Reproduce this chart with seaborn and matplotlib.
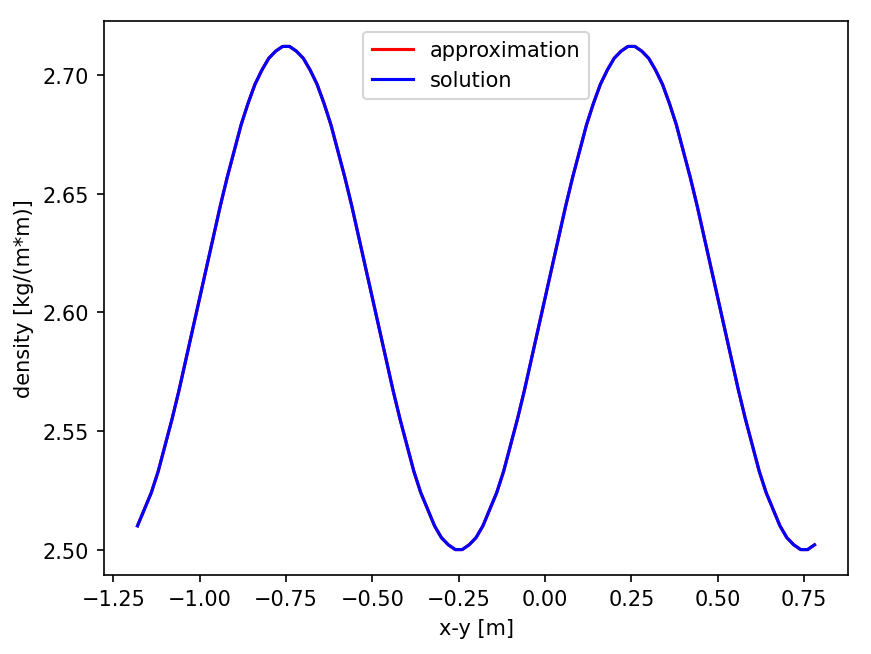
#!/usr/bin/env python3
"""
Density along the x-y diagonal: approximation vs. solution.
"""

import pandas as pd
import matplotlib
matplotlib.use("Agg")
import matplotlib.pyplot as plt
import seaborn as sns

# x-y position [m]
x_pos = [
    -1.18, -1.16, -1.14, -1.12, -1.10, -1.08, -1.06, -1.04, -1.02, -1.00,
    -0.98, -0.96, -0.94, -0.92, -0.90, -0.88, -0.86, -0.84, -0.82, -0.80,
    -0.78, -0.76, -0.74, -0.72, -0.70, -0.68, -0.66, -0.64, -0.62, -0.60,
    -0.58, -0.56, -0.54, -0.52, -0.50, -0.48, -0.46, -0.44, -0.42, -0.40,
    -0.38, -0.36, -0.34, -0.32, -0.30, -0.28, -0.26, -0.24, -0.22, -0.20,
    -0.18, -0.16, -0.14, -0.12, -0.10, -0.08, -0.06, -0.04, -0.02, 0.00,
    0.02, 0.04, 0.06, 0.08, 0.10, 0.12, 0.14, 0.16, 0.18, 0.20,
    0.22, 0.24, 0.26, 0.28, 0.30, 0.32, 0.34, 0.36, 0.38, 0.40,
    0.42, 0.44, 0.46, 0.48, 0.50, 0.52, 0.54, 0.56, 0.58, 0.60,
    0.62, 0.64, 0.66, 0.68, 0.70, 0.72, 0.74, 0.76, 0.78,
]

# density [kg/(m*m)]
approximation = [
    2.510, 2.517, 2.524, 2.533, 2.544, 2.555, 2.567, 2.580, 2.593, 2.606,
    2.619, 2.632, 2.645, 2.657, 2.668, 2.679, 2.688, 2.696, 2.702, 2.707,
    2.710, 2.712, 2.712, 2.710, 2.707, 2.702, 2.696, 2.688, 2.679, 2.668,
    2.657, 2.645, 2.632, 2.619, 2.606, 2.593, 2.580, 2.567, 2.555, 2.544,
    2.533, 2.524, 2.517, 2.510, 2.505, 2.502, 2.500, 2.500, 2.502, 2.505,
    2.510, 2.517, 2.524, 2.533, 2.544, 2.555, 2.567, 2.580, 2.593, 2.606,
    2.619, 2.632, 2.645, 2.657, 2.668, 2.679, 2.688, 2.696, 2.702, 2.707,
    2.710, 2.712, 2.712, 2.710, 2.707, 2.702, 2.696, 2.688, 2.679, 2.668,
    2.657, 2.645, 2.632, 2.619, 2.606, 2.593, 2.580, 2.567, 2.555, 2.544,
    2.533, 2.524, 2.517, 2.510, 2.505, 2.502, 2.500, 2.500, 2.502,
]
solution = [
    2.510, 2.517, 2.524, 2.533, 2.544, 2.555, 2.567, 2.580, 2.593, 2.606,
    2.619, 2.632, 2.645, 2.657, 2.668, 2.679, 2.688, 2.696, 2.702, 2.707,
    2.710, 2.712, 2.712, 2.710, 2.707, 2.702, 2.696, 2.688, 2.679, 2.668,
    2.657, 2.645, 2.632, 2.619, 2.606, 2.593, 2.580, 2.567, 2.555, 2.544,
    2.533, 2.524, 2.517, 2.510, 2.505, 2.502, 2.500, 2.500, 2.502, 2.505,
    2.510, 2.517, 2.524, 2.533, 2.544, 2.555, 2.567, 2.580, 2.593, 2.606,
    2.619, 2.632, 2.645, 2.657, 2.668, 2.679, 2.688, 2.696, 2.702, 2.707,
    2.710, 2.712, 2.712, 2.710, 2.707, 2.702, 2.696, 2.688, 2.679, 2.668,
    2.657, 2.645, 2.632, 2.619, 2.606, 2.593, 2.580, 2.567, 2.555, 2.544,
    2.533, 2.524, 2.517, 2.510, 2.505, 2.502, 2.500, 2.500, 2.502,
]

df = pd.DataFrame({"x": x_pos, "approximation": approximation, "solution": solution})

fig, ax = plt.subplots(figsize=(871 / 150, 655 / 150), dpi=150)
sns.lineplot(data=df, x="x", y="approximation", color="red", label="approximation",
             sort=False, ax=ax)
sns.lineplot(data=df, x="x", y="solution", color="blue", label="solution",
             sort=False, ax=ax)
ax.set_xlabel("x-y [m]")
ax.set_ylabel("density [kg/(m*m)]")
ax.legend(loc="upper center")
fig.subplots_adjust(left=0.119, right=0.974, top=0.966, bottom=0.121)
fig.savefig("out.png", dpi=150)
plt.close(fig)
